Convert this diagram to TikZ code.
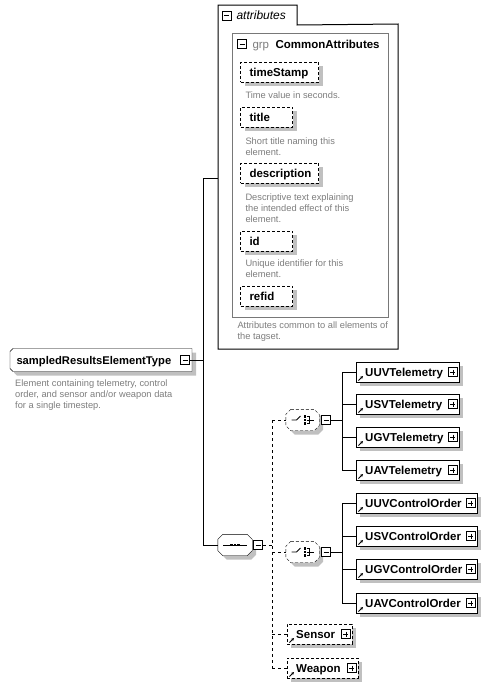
\documentclass[tikz,border=0pt]{standalone}
\usepackage{fontspec}
\setmainfont{Liberation Sans}
\usetikzlibrary{shadows,arrows.meta}
\pgfdeclarelayer{bg}
\pgfsetlayers{bg,main}
\definecolor{descgray}{RGB}{125,125,125}
\definecolor{shgray}{RGB}{192,192,192}
\definecolor{grpgray}{RGB}{120,120,120}
\newcommand\bfb{\fontsize{11.5}{13}\selectfont\bfseries}
\newcommand\bfs{\fontsize{11.2}{13}\selectfont\bfseries}
\newcommand\descf{\fontsize{9.3}{11}\selectfont}
\newcommand\boxlbl[3]{\makebox[#1][l]{\hspace*{#2}#3}}
% chamfered outline of node #1: left chamfer #2, right chamfer #3, shifted by (#4,#5)
\newcommand\champath[5]{([xshift=#4+#2,yshift=#5]#1.north west) -- ([xshift=#4-#3,yshift=#5]#1.north east) -- ([xshift=#4,yshift=#5-#3]#1.north east) -- ([xshift=#4,yshift=#5+#3]#1.south east) -- ([xshift=#4-#3,yshift=#5]#1.south east) -- ([xshift=#4+#2,yshift=#5]#1.south west) -- ([xshift=#4,yshift=#5+#2]#1.south west) -- ([xshift=#4,yshift=#5-#2]#1.north west) -- cycle}
\newcommand\choiceicon[1]{%
  \draw[line width=0.8pt] ([xshift=-11pt]#1.center) -- ([xshift=-6pt]#1.center) -- ([xshift=-2pt,yshift=4pt]#1.center);
  \foreach \dy in {-3.5,0,3.5} \fill ([xshift=1pt,yshift=\dy pt]#1.center) ++(0,-1.2) rectangle ++(2.4,2.4);
  \draw[line width=0.8pt] ([xshift=4pt,yshift=3.5pt]#1.center) -- ([xshift=7pt,yshift=3.5pt]#1.center) -- ([xshift=7pt,yshift=-3.5pt]#1.center) -- ([xshift=4pt,yshift=-3.5pt]#1.center)
     ([xshift=4pt]#1.center) -- ([xshift=11pt]#1.center);}
\begin{document}
\begin{tikzpicture}[x=1pt,y=-1pt,line width=1pt,
  dshadow/.style={drop shadow={shadow xshift=4pt,shadow yshift=-4pt,fill=shgray,opacity=1}},
  elem/.style={draw,fill=white,anchor=west,inner sep=0,minimum height=20pt,text height=9pt,text depth=1pt,font=\bfb,dshadow},
  opt/.style={elem,dash pattern=on 3pt off 2pt},
  tog/.style={draw,solid,fill=white,minimum size=9pt,inner sep=0,line width=0.8pt},
  minusbox/.style={tog,path picture={\draw[line width=0.8pt] ([xshift=2pt]path picture bounding box.west) -- ([xshift=-2pt]path picture bounding box.east);}},
  plusbox/.style={tog,path picture={\draw[line width=0.8pt] ([xshift=2pt]path picture bounding box.west) -- ([xshift=-2pt]path picture bounding box.east) ([yshift=-2pt]path picture bounding box.north) -- ([yshift=2pt]path picture bounding box.south);}},
  desc/.style={anchor=north west,inner sep=0,align=left,font=\descf,text=descgray},
  lbl/.style={anchor=west,inner sep=0,text height=9pt,text depth=1pt},
  octn/.style={inner sep=0,minimum width=34pt,minimum height=21pt},
  dline/.style={dash pattern=on 3pt off 3pt},
  reficon/.style={-{Stealth[length=3pt,width=3pt]},line width=1pt},
]
\useasboundingbox (0,0) rectangle (495,688);

% ---------- attributes ----------
\node[inner sep=0,minimum width=78pt,minimum height=19pt,anchor=north west] (attrtab) at (218,5) {};
\node[inner sep=0,minimum width=179pt,minimum height=324pt,anchor=north west] (attr) at (218,24) {};
\draw (attr.south west) -- (attrtab.north west) -- (attrtab.north east) -- (attrtab.south east) -- (attr.north east) -- (attr.south east) -- cycle;
\node[minusbox] (attrm) at (226.5,15.5) {};
\node[lbl,font=\fontsize{12}{14}\selectfont\itshape] (attrlbl) at (236,15.5) {attributes};

\node[draw=grpgray,inner sep=0,minimum width=156pt,minimum height=284pt,anchor=north west] (grp) at (232,33) {};
\node[minusbox] (grpm) at (242,44) {};
\node[lbl,font=\fontsize{11.5}{13}\selectfont,text=descgray] (grpkw) at (252,44) {grp};
\node[lbl,font=\bfb] (grpname) at (275,44) {CommonAttributes};

\node[opt] (ts) at (240,72) {\boxlbl{78pt}{9pt}{timeStamp}};
\node[desc] (tsd) at (245,91.5) {Time value in seconds.};
\node[opt] (ti) at (240,117) {\boxlbl{52pt}{9pt}{title}};
\node[desc] (tid) at (245,137.5) {Short title naming this\\element.};
\node[opt] (de) at (240,173) {\boxlbl{78pt}{9pt}{description}};
\node[desc] (ded) at (245,193.5) {Descriptive text explaining\\the intended effect of this\\element.};
\node[opt] (idb) at (240,241) {\boxlbl{52pt}{9pt}{id}};
\node[desc] (idd) at (245,259.5) {Unique identifier for this\\element.};
\node[opt] (rf) at (240,296) {\boxlbl{52pt}{9pt}{refid}};
\node[desc] (attrd) at (237,321.5) {Attributes common to all elements of\\the tagset.};

% ---------- root element ----------
\node[inner sep=0,minimum height=22pt,text height=9pt,text depth=1pt,font=\bfs,anchor=west] (sret) at (10,360)
      {\boxlbl{181pt}{6pt}{sampledResultsElementType}};
\begin{pgfonlayer}{bg}
  \fill[shgray] \champath{sret}{3pt}{0pt}{4pt}{-4pt};
  \filldraw[fill=white] \champath{sret}{3pt}{0pt}{0pt}{0pt};
\end{pgfonlayer}
\node[minusbox] (sretm) at (185,360) {};
\node[desc] (sretd) at (15,379.5) {Element containing telemetry, control\\order, and sensor and/or weapon data\\for a single timestep.};

% ---------- sequence ----------
\node[octn] (seq) at (235,545) {};
\begin{pgfonlayer}{bg}
  \fill[shgray] \champath{seq}{5pt}{5pt}{4pt}{-4pt};
  \filldraw[fill=white] \champath{seq}{5pt}{5pt}{0pt}{0pt};
\end{pgfonlayer}
\node[minusbox] (seqm) at (258,545) {};
\draw[line width=0.8pt] ([xshift=-12pt]seq.center) -- ([xshift=12pt]seq.center);
\foreach \dx in {-3.5,0,3.5} \fill ([xshift=\dx pt]seq.center) ++(-1.3,-1.3) rectangle ++(2.6,2.6);

% ---------- trunk ----------
\coordinate (t1) at (203,178);
\coordinate (t2) at (203,545);
\draw (sretm.east) -- (sretm.east -| t1);
\draw (t1) -- (t2);
\draw (t1) -- (t1 -| attr.west);
\draw (t2) -- (seq.west);

% ---------- choices ----------
\node[octn,minimum width=33pt] (ch1) at (302.5,420) {};
\node[octn,minimum width=33pt] (ch2) at (302.5,552) {};
\begin{pgfonlayer}{bg}
  \fill[shgray] \champath{ch1}{5pt}{5pt}{4pt}{-4pt};
  \filldraw[fill=white,dash pattern=on 3pt off 2pt] \champath{ch1}{5pt}{5pt}{0pt}{0pt};
  \fill[shgray] \champath{ch2}{5pt}{5pt}{4pt}{-4pt};
  \filldraw[fill=white,dash pattern=on 3pt off 2pt] \champath{ch2}{5pt}{5pt}{0pt}{0pt};
\end{pgfonlayer}
\node[minusbox] (ch1m) at (326,420) {};
\choiceicon{ch1}
\node[minusbox] (ch2m) at (326,552) {};
\choiceicon{ch2}

% ---------- optional elements ----------
\node[opt] (sensor) at (287,634) {\boxlbl{65pt}{9pt}{Sensor}};
\node[plusbox] (sensorp) at ([xshift=-6.5pt]sensor.east) {};
\draw[reficon] ([xshift=2.5pt,yshift=-8.5pt]sensor.west) -- ++(4.5,-4.5);
\node[opt] (weapon) at (287,668) {\boxlbl{71pt}{9pt}{Weapon}};
\node[plusbox] (weaponp) at ([xshift=-6.5pt]weapon.east) {};
\draw[reficon] ([xshift=2.5pt,yshift=-8.5pt]weapon.west) -- ++(4.5,-4.5);

% ---------- dashed bus ----------
\coordinate (b1) at (272,420);
\coordinate (b2) at (272,668);
\draw[dline] (seqm.east) -- (seqm.east -| b1);
\draw[dline] (b1) -- (b2);
\draw[dline] (b1) -- (ch1.west);
\draw[dline] (ch2.west -| b1) -- (ch2.west);
\draw[dline] (sensor.west -| b1) -- (sensor.west);
\draw[dline] (b2) -- (weapon.west);

% ---------- telemetry group ----------
\coordinate (g1a) at (342,372);
\coordinate (g1b) at (342,470);
\draw (ch1m.east) -- (ch1m.east -| g1a);
\draw (g1a) -- (g1b);
\foreach \n/\y/\t in {uuvt/372/UUVTelemetry,usvt/404/USVTelemetry,ugvt/437/UGVTelemetry,uavt/470/UAVTelemetry}{
  \node[elem] (\n) at (356,\y) {\boxlbl{103pt}{9pt}{\t}};
  \node[plusbox] (\n p) at ([xshift=-6.5pt]\n.east) {};
  \draw[reficon] ([xshift=2.5pt,yshift=-8.5pt]\n.west) -- ++(4.5,-4.5);
  \draw (\n.west -| g1a) -- (\n.west);
}

% ---------- control order group ----------
\coordinate (g2a) at (342,503);
\coordinate (g2b) at (342,603);
\draw (ch2m.east) -- (ch2m.east -| g2a);
\draw (g2a) -- (g2b);
\foreach \n/\y/\t in {uuvc/503/UUVControlOrder,usvc/536/USVControlOrder,ugvc/569/UGVControlOrder,uavc/603/UAVControlOrder}{
  \node[elem] (\n) at (356,\y) {\boxlbl{121pt}{9pt}{\t}};
  \node[plusbox] (\n p) at ([xshift=-6.5pt]\n.east) {};
  \draw[reficon] ([xshift=2.5pt,yshift=-8.5pt]\n.west) -- ++(4.5,-4.5);
  \draw (\n.west -| g2a) -- (\n.west);
}
\end{tikzpicture}
\end{document}
